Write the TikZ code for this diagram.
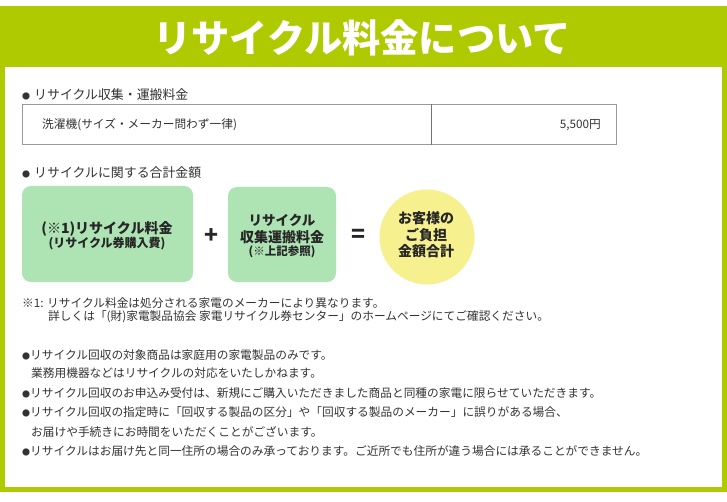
\documentclass[tikz,border=0pt]{standalone}
\usepackage{fontspec}
\setmainfont{Noto Sans CJK JP}
\definecolor{framegreen}{HTML}{AFCA00}
\definecolor{boxgreen}{HTML}{AEE3B3}
\definecolor{circyellow}{HTML}{F7F08F}
\definecolor{txt}{HTML}{333333}
\newcommand{\fs}[1]{\fontsize{#1}{#1}\selectfont}
\newcommand{\bul}{\makebox[8pt][l]{\fs{8}●}}
\tikzset{
  titletext/.style={text=white, font=\fs{38.2}\bfseries, inner sep=0},
  head/.style={anchor=west, text=txt, font=\fs{12.9}, inner sep=0},
  body/.style={anchor=west, text=txt, font=\fs{11.7}, inner sep=0},
  cell/.style={draw=gray!80, line width=0.8pt, anchor=north west, inner sep=0},
  gbox/.style={fill=boxgreen, rounded corners=9pt, inner sep=0},
  ycirc/.style={circle, fill=circyellow, inner sep=0},
  blabel/.style={text=black!85, font=\bfseries, inner sep=0},
  op/.style={text=black!85, font=\fs{23}\bfseries, inner sep=0}
}
\begin{document}
\begin{tikzpicture}[x=1pt,y=-1pt]
\useasboundingbox (0,0) rectangle (727,502);
\fill[white] (0,0) rectangle (727,502);
\fill[framegreen] (0,6) rectangle (727,492);
\fill[white] (5,67) rectangle (722,487);
\node[titletext] (title) at (362,38) {リサイクル料金について};

% section 1
\node[head] (h1) at (22,95) {\bul\hspace{4pt}リサイクル収集・運搬料金};
\node[cell, minimum width=409, minimum height=40] (c1) at (22,104.5) {};
\node[cell, minimum width=185, minimum height=40] (c2) at (431,104.5) {};
\draw[gray!90!black, line width=1pt] (c2.north west) -- (c2.south west);
\node[body] (t1) at (42,125) {洗濯機(サイズ・メーカー問わず一律)};
\node[body, anchor=east] (t2) at (601,125) {5,500円};

% section 2
\node[head] (h2) at (22,173) {\bul\hspace{4pt}リサイクルに関する合計金額};
\node[gbox, minimum width=171, minimum height=96] (b1) at (107.5,234) {};
\node[gbox, minimum width=108, minimum height=95] (b2) at (282,234.5) {};
\node[ycirc, minimum size=95] (c) at (427,237) {};
\node[op] (plus) at (211.5,236) {+};
\node[op] (eq) at (358,236) {=};

\node[blabel, font=\fs{14}\bfseries] (b1a) at (107,228.5) {(※1)リサイクル料金};
\node[blabel, font=\fs{12}\bfseries] (b1b) at (107,243.5) {(リサイクル券購入費)};
\node[blabel, font=\fs{13.5}\bfseries] (b2a) at (282,220) {リサイクル};
\node[blabel, font=\fs{14}\bfseries] (b2b) at (282,237) {収集運搬料金};
\node[blabel, font=\fs{11.5}\bfseries] (b2c) at (282,252) {(※上記参照)};
\node[blabel, font=\fs{14}\bfseries] (ca) at (426,218) {お客様の};
\node[blabel, font=\fs{14}\bfseries] (cb) at (426,235) {ご負担};
\node[blabel, font=\fs{14}\bfseries] (cc) at (426,251.5) {金額合計};

% notes
\node[body] (n1) at (22,303) {※1: リサイクル料金は処分される家電のメーカーにより異なります。};
\node[body] (n2) at (48,317) {詳しくは「(財)家電製品協会 家電リサイクル券センター」のホームページにてご確認ください。};

% bottom bullets
\node[body] (l1) at (22,355) {\bul リサイクル回収の対象商品は家庭用の家電製品のみです。};
\node[body] (l2) at (31,373.5) {業務用機器などはリサイクルの対応をいたしかねます。};
\node[body] (l3) at (22,393) {\bul リサイクル回収のお申込み受付は、新規にご購入いただきました商品と同種の家電に限らせていただきます。};
\node[body] (l4) at (22,412.5) {\bul リサイクル回収の指定時に「回収する製品の区分」や「回収する製品のメーカー」に誤りがある場合、};
\node[body] (l5) at (31,432) {お届けや手続きにお時間をいただくことがございます。};
\node[body] (l6) at (22,451.5) {\bul リサイクルはお届け先と同一住所の場合のみ承っております。ご近所でも住所が違う場合には承ることができません。};
\end{tikzpicture}
\end{document}
